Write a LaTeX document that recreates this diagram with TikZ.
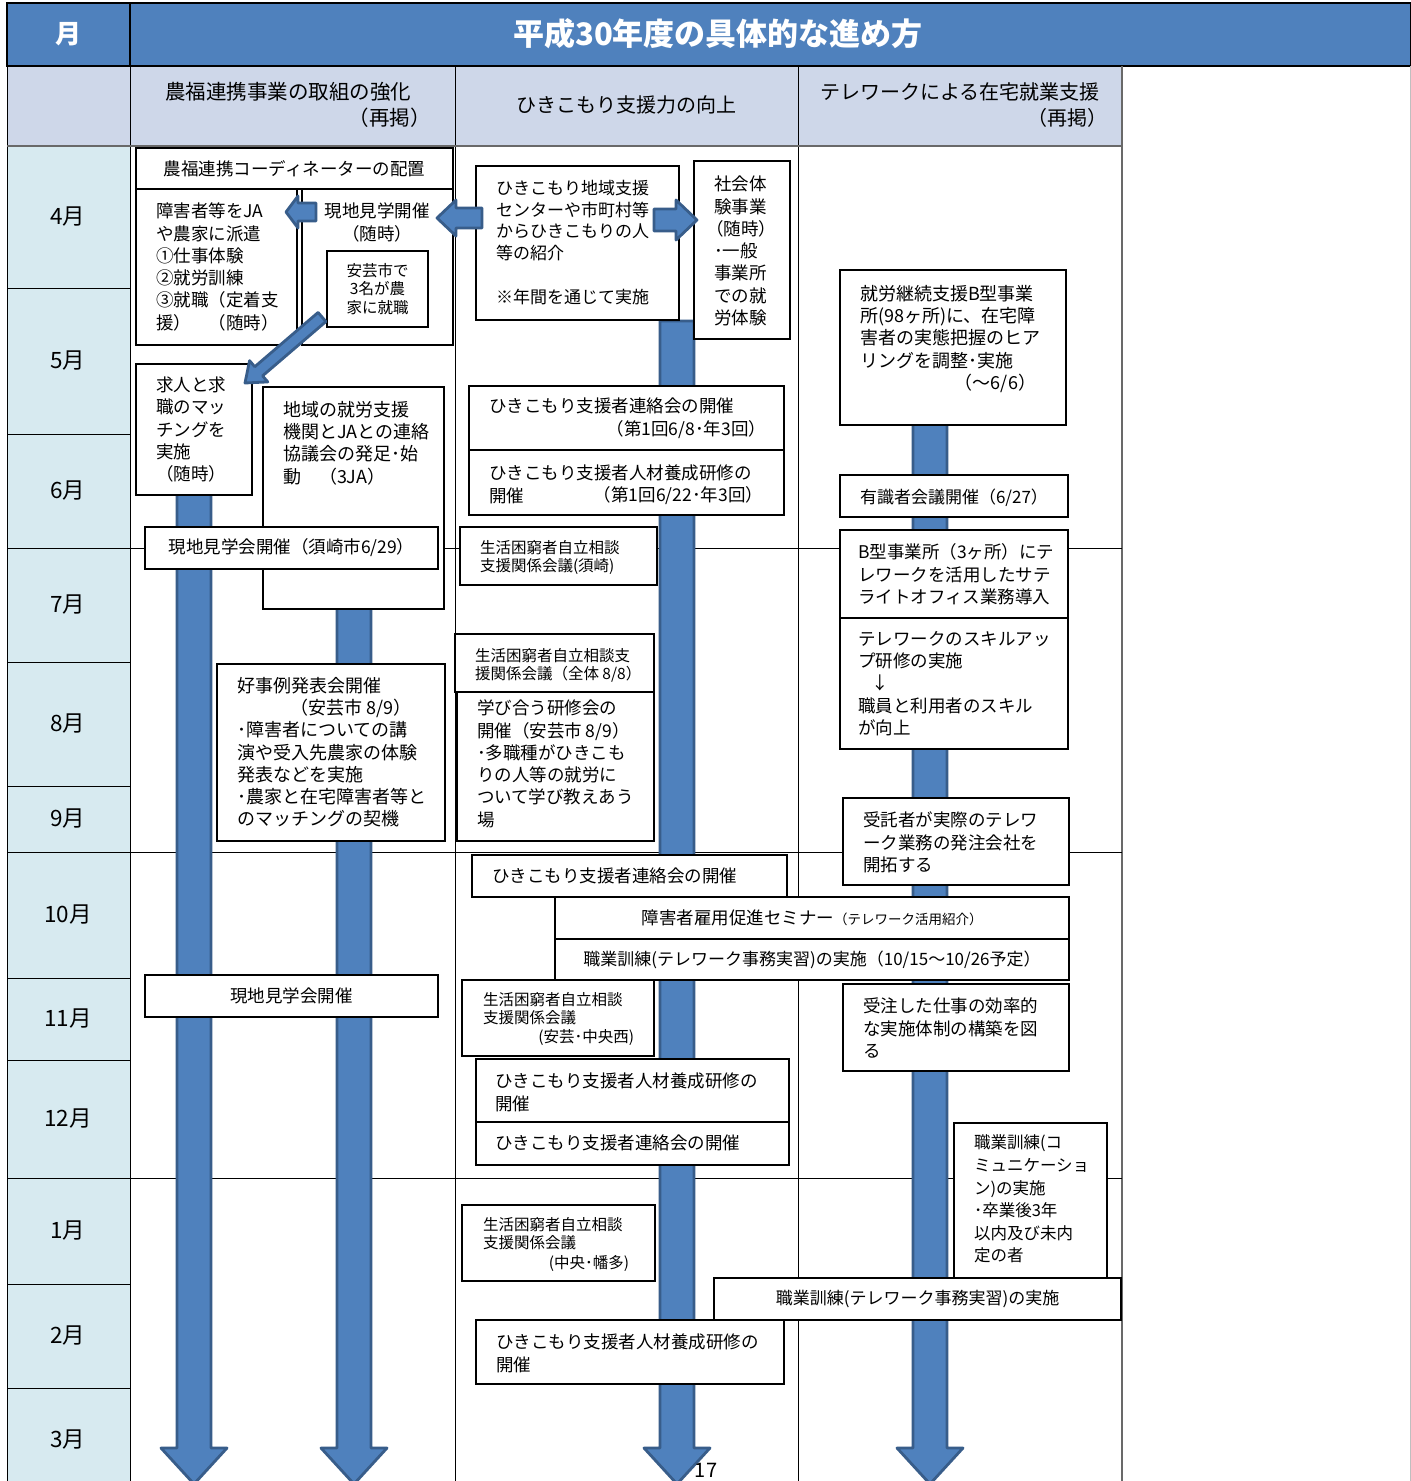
\documentclass[tikz,border=0pt]{standalone}
\usepackage{fontspec}
\setmainfont{Noto Sans CJK JP}
\usetikzlibrary{calc}
\definecolor{hdrblue}{RGB}{79,129,189}
\definecolor{colhead}{RGB}{206,215,233}
\definecolor{monthbg}{RGB}{215,234,240}
\definecolor{arrowfill}{RGB}{79,129,189}
\definecolor{arrowedge}{RGB}{56,93,138}
\definecolor{gridgray}{RGB}{105,105,105}
\newcommand\fsz[2]{\fontsize{#1}{#2}\selectfont}
\tikzset{
  bxs/.style={draw=black, fill=white, line width=1.4pt, inner sep=0pt, outer sep=0pt, align=center, font=\fsz{17.5}{22.3}},
  txs/.style={inner sep=0pt, outer sep=0pt, align=left, font=\fsz{17.5}{22.3}},
  smalltx/.style={font=\fsz{15.5}{18.4}},
  arrowst/.style={fill=arrowfill, draw=arrowedge, line width=2.8pt, line join=round},
  gridline/.style={draw=black, line width=1pt},
  hd/.style={inner sep=0pt, font=\fsz{20.5}{24}},
  monthlbl/.style={inner sep=0pt, font=\fsz{22.5}{22.5}}
}
% box: [opts]{name}{x1}{y1}{x2}{y2}{centered text}
\newcommand\bx[7][]{\node[bxs,anchor=north west,minimum width={(#5-#3)*1pt},minimum height={(#6-#4)*1pt},#1] (#2) at (#3,#4) {#7};}
% text block anchored at its top-left / top-right
\newcommand\tx[5][]{\node[txs,anchor=north west,#1] (#2) at (#3,#4) {#5};}
\newcommand\txr[5][]{\node[txs,anchor=north east,#1] (#2) at (#3,#4) {#5};}
% block arrow: {name}{from}{to}{shaft half}{head half}{head length}
\newcommand\barrow[6]{%
  \coordinate (#1hb) at ($(#3)!#6!(#2)$);
  \draw[arrowst] ($(#2)!#4!90:(#3)$) -- ($(#1hb)!#4!90:(#3)$) -- ($(#1hb)!#5!90:(#3)$) -- (#3)
     -- ($(#1hb)!#5!-90:(#3)$) -- ($(#1hb)!#4!-90:(#3)$) -- ($(#2)!#4!-90:(#3)$) -- cycle;}
\begin{document}
\begin{tikzpicture}[x=1pt,y=-1pt]
\useasboundingbox (0,0) rectangle (1411,1481);
\fill[white] (0,0) rectangle (1411,1481);
% ---------- table background ----------
\fill[hdrblue] (7,3) rectangle (1411,66);
\fill[colhead] (7,66) rectangle (1122,146);
\fill[monthbg] (7,146) rectangle (130,1481);
\draw[line width=1.2pt] (7,3) rectangle (1411,66);
\draw[line width=1.2pt] (130,3) -- (130,66);
\draw[gridline] (7,66) -- (7,1481);
\draw[gridline] (130,66) -- (130,1481);
\draw[gridline] (455,66) -- (455,1481);
\draw[gridline] (798,66) -- (798,1481);
\draw[draw=gridgray, line width=1.6pt] (1122,66) -- (1122,1481);
\draw[draw=gray!50, line width=0.8pt] (1410,66) -- (1410,1481);
\foreach \y in {288,434,548,662,786,852,978,1060,1178,1284,1388}
  \draw[gridline] (7,\y) -- (130,\y);
\foreach \y in {548,852,1178}
  \draw[draw=black, line width=0.8pt] (130,\y) -- (1122,\y);
\draw[draw=gridgray, line width=2.6pt] (7,146) -- (1122,146);
% ---------- headers ----------
\node[inner sep=0pt, font=\fsz{26}{26}\bfseries, text=white] (hm) at (68,34) {月};
\node[inner sep=0pt, font=\fsz{31}{31}\bfseries, text=white] (ht) at (718,34) {平成30年度の具体的な進め方};
\node[hd, anchor=north west] (h1a) at (165,82) {農福連携事業の取組の強化};
\node[hd, anchor=north east] (h1b) at (431,108) {（再掲）};
\node[hd, font=\fsz{20}{24}] (h2) at (626,105) {ひきこもり支援力の向上};
\node[hd, font=\fsz{20}{24}, anchor=north west] (h3a) at (820,82) {テレワークによる在宅就業支援};
\node[hd, font=\fsz{20}{24}, anchor=north east] (h3b) at (1108,108) {（再掲）};
\foreach \m/\y in {4/217,5/361,6/491,7/605,8/724,9/819,10/915,11/1019,12/1119,1/1231,2/1336,3/1440}
  \node[monthlbl] (mon\m) at (68,\y) {{\m}月};
% ---------- big vertical arrows ----------
\coordinate (a1s) at (194,490);  \coordinate (a1e) at (194,1484);
\coordinate (a2s) at (354,600);  \coordinate (a2e) at (354,1484);
\coordinate (a3s) at (677,321);  \coordinate (a3e) at (677,1484);
\coordinate (a4s) at (930,420);  \coordinate (a4e) at (930,1484);
\barrow{a1}{a1s}{a1e}{17pt}{33pt}{36pt}
\barrow{a2}{a2s}{a2e}{17pt}{33pt}{36pt}
\barrow{a3}{a3s}{a3e}{17pt}{33pt}{36pt}
\barrow{a4}{a4s}{a4e}{17pt}{33pt}{36pt}
% ---------- left column ----------
\bx{L1}{136}{148}{453}{189}{農福連携コーディネーターの配置}
\bx{L2}{136}{189}{297}{345}{}
\tx{L2t}{156}{203}{障害者等をJA\\や農家に派遣\\①仕事体験\\②就労訓練\\③就職（定着支\\援）　（随時）}
\bx{L3}{302}{189}{453}{345}{}
\node[txs, align=center, anchor=north] (L3t) at (377,203) {現地見学開催\\（随時）};
\bx[font=\fsz{15.5}{18.5}]{L3i}{327}{251}{428}{327}{安芸市で\\3名が農\\家に就職}
\bx{L8}{136}{364}{252}{495}{}
\tx{L8t}{156}{377}{求人と求\\職のマッ\\チングを\\実施\\（随時）}
\bx{L9}{263}{387}{444}{609}{}
\tx[font=\fsz{18}{22.3}]{L9t}{283}{401}{地域の就労支援\\機関とJAとの連絡\\協議会の発足･始\\動　（3JA）}
\bx{L10}{145}{527}{438}{569}{現地見学会開催（須崎市6/29）}
\bx{L11}{217}{664}{445}{841}{}
\tx[font=\fsz{18}{22.3}]{L11t}{237}{677}{好事例発表会開催\\\hspace*{53pt}（安芸市 8/9）\\･障害者についての講\\演や受入先農家の体験\\発表などを実施\\･農家と在宅障害者等と\\のマッチングの契機}
\bx{L12}{145}{975}{438}{1017}{現地見学会開催}
% ---------- middle column ----------
\bx{M13}{476}{166}{679}{320}{}
\tx[font=\fsz{17}{21.8}]{M13t}{496}{180}{ひきこもり地域支援\\センターや市町村等\\からひきこもりの人\\等の紹介\\[21.8pt]※年間を通じて実施}
\bx{M14}{694}{161}{790}{339}{}
\tx{M14t}{714}{176}{社会体\\験事業\\\hspace*{-8pt}（随時）\\･一般\\事業所\\での就\\労体験}
\bx{M15}{469}{386}{784}{450}{}
\tx{M15a}{489}{398}{ひきこもり支援者連絡会の開催}
\txr{M15b}{766}{421}{（第1回6/8･年3回）}
\bx{M16}{469}{450}{784}{515}{}
\tx{M16a}{489}{465}{ひきこもり支援者人材養成研修の\\開催}
\txr{M16b}{763}{487}{（第1回6/22･年3回）}
\bx{M17}{460}{527}{657}{585}{}
\tx[smalltx]{M17t}{480}{540}{生活困窮者自立相談\\支援関係会議(須崎)}
\bx{M18}{455}{634}{654}{692}{}
\tx[smalltx]{M18t}{475}{648}{生活困窮者自立相談支\\援関係会議（全体 8/8）}
\bx{M19}{457}{692}{654}{841}{}
\tx{M19t}{477}{700}{学び合う研修会の\\開催（安芸市 8/9）\\･多職種がひきこも\\りの人等の就労に\\ついて学び教えあう\\場}
\bx{M20}{472}{855}{787}{897}{}
\tx{M20t}{492}{868}{ひきこもり支援者連絡会の開催}
\bx{M21}{555}{897}{1069}{939}{障害者雇用促進セミナー{\fsz{13.5}{15}（テレワーク活用紹介）}}
\bx[font=\fsz{17}{22}]{M22}{555}{939}{1069}{980}{職業訓練(テレワーク事務実習)の実施（10/15～10/26予定）}
\bx{M23}{462}{980}{654}{1056}{}
\tx[smalltx]{M23a}{483}{992}{生活困窮者自立相談\\支援関係会議}
\txr[smalltx]{M23b}{634}{1029}{(安芸･中央西)}
\bx{M24}{476}{1059}{789}{1122}{}
\tx{M24t}{495}{1073}{ひきこもり支援者人材養成研修の\\開催}
\bx{M25}{476}{1122}{789}{1165}{}
\tx{M25t}{495}{1135}{ひきこもり支援者連絡会の開催}
\bx{M26}{462}{1205}{655}{1281}{}
\tx[smalltx]{M26a}{483}{1217}{生活困窮者自立相談\\支援関係会議}
\txr[smalltx]{M26b}{629}{1255}{(中央･幡多)}
\bx{M27}{476}{1320}{784}{1384}{}
\tx{M27t}{496}{1334}{ひきこもり支援者人材養成研修の\\開催}
% ---------- right column ----------
\bx{R28}{840}{270}{1066}{425}{}
\tx[font=\fsz{18}{22.3}]{R28a}{860}{285}{就労継続支援B型事業\\所(98ヶ所)に、在宅障\\害者の実態把握のヒア\\リングを調整･実施}
\txr[font=\fsz{18}{22.3}]{R28b}{1036}{374}{（～6/6）}
\bx{R29}{840}{475}{1068}{517}{}
\tx[font=\fsz{17}{22}]{R29t}{860}{489}{有識者会議開催（6/27）}
\bx{R30}{840}{530}{1068}{618}{}
\tx{R30t}{858}{544}{B型事業所（3ヶ所）にテ\\レワークを活用したサテ\\ライトオフィス業務導入}
\bx{R31}{840}{618}{1068}{749}{}
\tx{R31t}{858}{631}{テレワークのスキルアッ\\プ研修の実施\\\hspace*{13pt}↓\\職員と利用者のスキル\\が向上}
\bx{R32}{843}{798}{1069}{885}{}
\tx{R32t}{863}{812}{受託者が実際のテレワ\\ーク業務の発注会社を\\開拓する}
\bx{R33}{843}{984}{1069}{1071}{}
\tx{R33t}{863}{998}{受注した仕事の効率的\\な実施体制の構築を図\\る}
\bx{R34}{954}{1123}{1107}{1278}{}
\tx[font=\fsz{16.5}{22.6}]{R34t}{974}{1135}{職業訓練(コ\\ミュニケーショ\\ン)の実施\\･卒業後3年\\以内及び未内\\定の者}
\bx[font=\fsz{17}{22}]{R35}{714}{1278}{1121}{1320}{職業訓練(テレワーク事務実習)の実施}
% ---------- small block arrows (on top) ----------
\coordinate (sAs) at (316,212); \coordinate (sAe) at (286,212);
\barrow{sA}{sAs}{sAe}{9pt}{16pt}{12pt}
\coordinate (sBs) at (482,218); \coordinate (sBe) at (437,218);
\barrow{sB}{sBs}{sBe}{10pt}{18pt}{19pt}
\coordinate (sCs) at (654,220); \coordinate (sCe) at (697,220);
\barrow{sC}{sCs}{sCe}{11pt}{20pt}{21pt}
\coordinate (sDs) at (322,317); \coordinate (sDe) at (245,383);
\barrow{sD}{sDs}{sDe}{6pt}{14pt}{18pt}
% ---------- page number ----------
\node[inner sep=0pt, anchor=north, font=\fsz{20}{20}] (pg) at (706,1463) {17};
\end{tikzpicture}
\end{document}
